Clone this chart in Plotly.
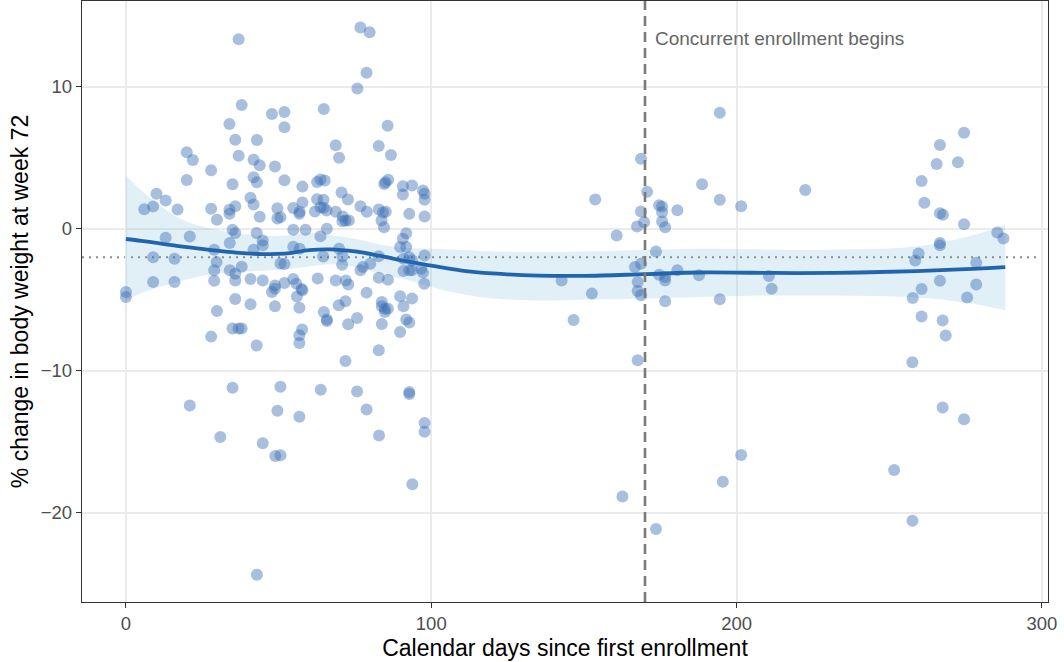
import plotly.graph_objects as go

# ---- data ----
days = [0, 0, 6.0, 8.9, 10.0, 13.0, 16.9, 19.9, 21.9, 19.9, 27.9, 27.9, 29.8, 33.9, 35.8, 36.9, 37.9, 36.9, 34.9, 33.9,
        33.9, 35.8, 42.9, 41.8, 43.8, 41.8, 42.9, 40.8, 41.8, 43.8, 47.8, 51.9, 51.9, 48.8, 49.6, 49.6, 50.6, 51.9, 54.8, 56.9,
        57.8, 56.8, 57.8, 61.9, 62.6, 64.7, 63.7, 64.8, 65.7, 62.6, 63.7, 65.1, 64.8, 68.7, 69.8, 68.7, 70.6, 72.7, 71.0, 71.9,
        73.0, 70.9, 76.8, 79.8, 78.8, 75.8, 76.8, 78.9, 82.8, 85.7, 86.8, 82.8, 84.2, 85.1, 83.7, 84.5, 84.6, 85.0, 85.9, 90.7,
        93.7, 90.7, 92.8, 97.3, 97.8, 97.8, 97.8,
        8.9, 8.9, 13.0, 15.9, 15.9, 20.9, 20.9, 27.9, 28.9, 29.7, 28.9, 28.9, 29.8, 34.9, 35.8, 34.0, 34.0, 35.8, 35.8, 37.9,
        35.8, 34.9, 36.9, 37.9, 34.9, 42.8, 44.8, 44.8, 41.8, 40.8, 44.8, 40.8, 42.8, 48.8, 48.8, 47.8, 48.8, 50.6, 50.6, 49.6,
        54.8, 58.8, 65.8, 63.7, 54.8, 56.9, 51.9, 64.6, 69.8, 70.8, 54.8, 55.8, 51.9, 57.5, 57.8, 56.0, 56.8, 62.8, 68.7, 72.0,
        72.8, 64.8, 65.8, 65.8, 69.7, 71.9, 75.7, 72.8, 78.8, 76.8, 77.6, 80.0, 70.9, 82.8, 82.8, 85.8, 83.8, 83.8, 84.8, 85.8,
        84.8, 83.8, 89.8, 90.9, 93.7, 91.8, 92.8, 89.8, 71.9, 82.8, 56.8, 57.7, 56.8, 63.8, 75.7, 92.8, 92.8, 56.8, 78.8, 97.8,
        97.8, 89.8, 91.8, 90.7, 91.8, 90.9, 92.8, 93.7, 90.9, 92.8, 93.7, 96.7, 97.3, 97.8, 97.7, 30.9, 44.8, 48.9, 50.6, 82.9,
        93.8, 42.9,
        142.7, 146.6, 152.6, 153.7, 160.7, 162.6, 166.7, 167.4, 167.6, 167.6, 168.7, 167.6, 168.7, 168.7, 168.7, 169.7, 170.7,
        173.6, 173.6, 174.6, 175.6, 175.6, 175.6, 176.6, 174.6, 176.6, 176.6, 176.6, 180.6, 180.6, 187.7, 188.7, 194.5, 194.5,
        194.5, 195.5, 201.5, 201.5, 210.6, 211.5, 222.5,
        251.6, 257.6, 257.6, 257.7, 258.5, 259.6, 260.6, 260.6, 260.6, 261.5, 265.5, 266.6, 266.6, 267.6, 266.6, 266.6, 266.6,
        267.5, 267.5, 268.5, 272.5, 274.5, 274.5, 274.5, 275.5, 278.5, 278.5, 285.4, 287.4]

pct_change = [-4.45, -4.8, 1.38, 1.57, 2.46, 1.99, 1.36, 5.39, 4.85, 3.44, 4.12, 1.41, 0.63, 7.38, 6.28, 13.36, 8.72, 5.15, 3.14, 1.34,
              1.05, 1.59, 6.26, 4.87, 4.47, 3.63, 3.28, 2.18, 1.71, 0.84, 8.09, 8.23, 7.15, 4.38, 1.45, 0.72, 0.82, 3.42, 1.47, 1.2,
              1.85, 1.05, 2.97, 1.22, 2.08, 2.04, 1.52, 1.48, 1.29, 3.3, 3.47, 3.4, 8.44, 5.88, 5.01, 1.2, 2.55, 2.06, 0.87, 0.58,
              0.58, 0.53, 14.18, 13.85, 10.99, 9.89, 1.59, 1.2, 5.84, 7.26, 5.2, 1.36, 1.15, 1.2, 0.58, 0.11, 3.16, 3.28, 3.45, 3.0,
              3.05, 2.41, 1.05, 2.69, 2.46, 2.04, 0.87,
              -2.0, -3.75, -0.63, -2.11, -3.75, -0.54, -12.45, -7.6, -1.48, -2.35, -2.93, -3.66, -5.79, -0.07, -0.3, -1.01, -2.93, -3.17, -3.64, -2.68,
              -4.95, -7.03, -7.03, -7.03, -11.2, -0.3, -0.82, -1.17, -1.48, -3.54, -3.64, -5.32, -8.23, -3.99, -4.22, -4.46, -5.46, -2.45, -11.14, -12.83,
              -0.07, -0.07, 0.0, -0.52, -1.27, -1.41, -2.49, -1.95, -1.41, -2.53, -3.54, -3.87, -3.82, -4.25, -4.34, -4.78, -5.56, -3.5, -3.64, -3.64,
              -3.92, -5.86, -6.4, -6.5, -5.39, -5.11, -6.29, -6.73, -4.5, -2.93, -2.7, -2.46, -1.95, -1.93, -3.45, -3.59, -5.16, -5.46, -5.63, -5.63,
              -5.86, -6.71, -4.76, -5.46, -4.92, -6.4, -6.61, -7.27, -9.31, -8.56, -7.5, -7.1, -8.05, -11.35, -11.46, -11.5, -11.65, -13.25, -12.73, -13.69,
              -14.3, -1.29, -1.29, -0.7, -0.31, -2.11, -2.0, -2.23, -2.98, -2.93, -2.93, -2.81, -3.09, -1.88, -3.87, -14.68, -15.12, -16.01, -15.96, -14.56,
              -18.0, -24.38,
              -3.64, -6.43, -4.57, 2.06, -0.47, -18.87, -2.7, 0.16, -3.75, -4.39, -4.69, -9.26, -2.46, 4.94, 1.22, 0.46, 2.6,
              -1.6, -21.15, 1.66, 1.57, 1.17, 0.51, 0.11, -3.24, -3.4, -3.64, -5.11, 1.31, -2.93, -3.28, 3.14, 8.18, 2.04,
              -4.97, -17.82, 1.59, -15.94, -3.33, -4.22, 2.74,
              -17.0, -9.4, -20.58, -4.88, -2.23, -1.74, 3.37, -4.25, -6.19, 1.83, 4.57, 5.9, 1.1, 0.98, -1.01, -1.17, -3.66,
              -6.47, -12.59, -7.52, 4.68, 6.77, 0.32, -13.43, -4.85, -2.39, -3.92, -0.26, -0.68]

smooth_x = [0, 5, 10, 15, 20, 28, 36, 45, 52, 60, 67, 75, 83, 92, 100, 110, 120, 135, 150, 170, 188, 205, 220, 240, 259, 275, 288]
smooth_y = [-0.72, -0.85, -1.0, -1.15, -1.3, -1.5, -1.68, -1.78, -1.75, -1.5, -1.45, -1.6, -1.9, -2.3, -2.6, -2.95, -3.15, -3.3,
            -3.32, -3.2, -3.08, -3.1, -3.12, -3.08, -2.98, -2.85, -2.7]
smooth_hi = [3.75, 2.7, 1.85, 1.05, 0.5, 0.0, -0.3, -0.5, -0.5, -0.3, -0.45, -0.7, -1.1, -1.35, -1.4, -1.5, -1.6, -1.64, -1.6,
             -1.5, -1.41, -1.45, -1.5, -1.45, -1.25, -0.6, 0.25]
smooth_lo = [-5.05, -4.55, -4.15, -3.85, -3.55, -3.2, -3.05, -2.95, -2.85, -2.65, -2.5, -2.7, -3.15, -3.6, -4.1, -4.6, -4.9,
             -5.05, -5.0, -4.92, -4.8, -4.72, -4.7, -4.72, -4.85, -5.2, -5.75]

reference_line = -2.0
concurrent_day = 170
annotation_text = "Concurrent enrollment begins"
x_ticks = [0, 100, 200, 300]
y_ticks = [-20, -10, 0, 10]
y_ticklabels = ["\u221220", "\u221210", "0", "10"]

FONT = "Liberation Sans, Arial, Helvetica, sans-serif"

fig = go.Figure()

# confidence ribbon
fig.add_trace(go.Scatter(x=smooth_x, y=smooth_hi, mode="lines", line=dict(width=0, shape="spline"),
                         hoverinfo="skip", showlegend=False))
fig.add_trace(go.Scatter(x=smooth_x, y=smooth_lo, mode="lines", line=dict(width=0, shape="spline"),
                         fill="tonexty", fillcolor="rgba(107,174,214,0.2)", hoverinfo="skip", showlegend=False))

# points
fig.add_trace(go.Scatter(x=days, y=pct_change, mode="markers",
                         marker=dict(size=12, color="rgba(58,109,181,0.44)", line=dict(width=0)),
                         showlegend=False))

# smooth line
fig.add_trace(go.Scatter(x=smooth_x, y=smooth_y, mode="lines",
                         line=dict(color="#2166AC", width=3.8, shape="spline"), showlegend=False))

# reference lines
fig.add_shape(type="line", xref="paper", x0=0, x1=1, yref="y", y0=reference_line, y1=reference_line,
              line=dict(color="#8a8a8a", width=2, dash="2px,5px"), layer="below")
fig.add_shape(type="line", xref="x", x0=concurrent_day, x1=concurrent_day, yref="paper", y0=0, y1=1,
              line=dict(color="#7a7a7a", width=2.6, dash="10px,6px"))

fig.add_annotation(x=172.5, y=13.38, text=annotation_text, showarrow=False,
                   xanchor="left", yanchor="middle", font=dict(family=FONT, size=19, color="#666666"))

axis_common = dict(showline=True, linecolor="#333333", linewidth=1.3, mirror=True,
                   showgrid=True, gridcolor="#EBEBEB", gridwidth=1.8, zeroline=False,
                   ticks="outside", ticklen=5, tickcolor="#333333", tickwidth=1.3,
                   automargin=False,
                   tickfont=dict(family=FONT, size=18.5, color="#4D4D4D"))

fig.update_xaxes(range=[-14.4, 302], tickvals=x_ticks,
                 title=dict(text="Calendar days since first enrollment", standoff=6,
                            font=dict(family=FONT, size=23, color="black")),
                 **axis_common)
fig.update_yaxes(range=[-26.3, 16.05], tickvals=y_ticks, ticktext=y_ticklabels,
                 title=dict(text="% change in body weight at week 72", standoff=5,
                            font=dict(family=FONT, size=23, color="black")),
                 **axis_common)

fig.update_layout(template="none", width=1064, height=662, plot_bgcolor="white", paper_bgcolor="white",
                  margin=dict(l=82, r=16, t=1, b=60), showlegend=False)

fig.write_html("out.html", config={"displayModeBar": False},
               post_script="document.body.style.margin='0px';")
